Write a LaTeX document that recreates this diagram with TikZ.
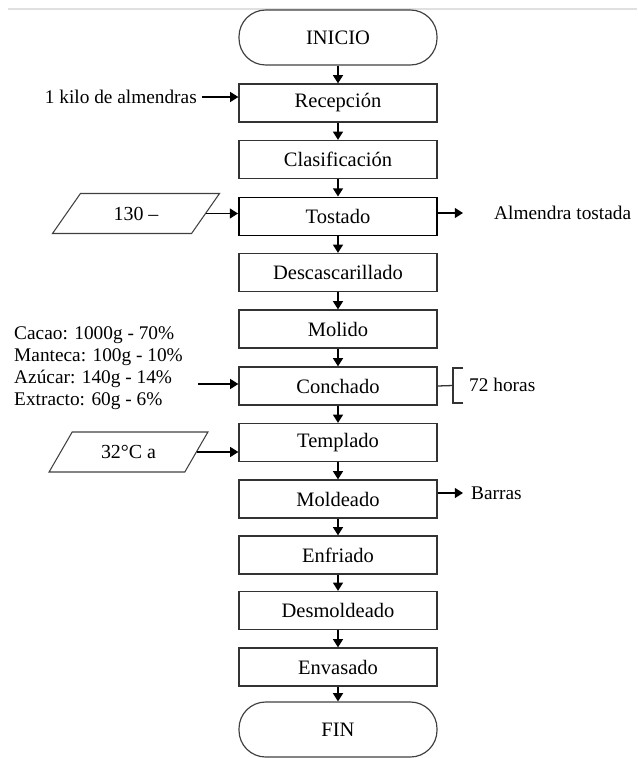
\documentclass[tikz,border=0pt]{standalone}
\usepackage{fontspec}
\setmainfont{Liberation Serif}
\usetikzlibrary{arrows.meta,shapes.geometric}

\begin{document}
\begin{tikzpicture}[x=0.03cm, y=-0.03cm,
    proceso/.style={draw=black!80, line width=1.1pt, minimum width=5.94cm, minimum height=1.14cm, inner sep=0pt, font=\fontsize{17.5}{20}\selectfont},
    terminal/.style={draw=black!75, line width=1pt, rounded corners=0.8cm, minimum width=5.94cm, minimum height=1.65cm, inner sep=0pt, font=\fontsize{17.5}{20}\selectfont},
    entrada/.style={trapezium, trapezium left angle=50, trapezium right angle=130, trapezium stretches=true, draw=black!75, line width=0.9pt, minimum height=1.2cm, inner sep=0pt, font=\fontsize{17}{20}\selectfont},
    flecha/.style={-{Triangle[length=7pt,width=8.5pt]}, line width=1.3pt},
    nota/.style={font=\fontsize{16.5}{18.8}\selectfont, inner sep=0pt}]
  \useasboundingbox (0,0) rectangle (637,758);
  \draw[black!12, line width=1pt] (8,9) -- (637,9);

  % main chain
  \node[terminal] (inicio) at (338,37.5) {INICIO};
  \node[proceso] (recep) at (338,103) {Recepción};
  \node[proceso] (clasif) at (338,159.5) {Clasificación};
  \node[proceso, line width=1.7pt, draw=black] (tostado) at (338,216.5) {Tostado};
  \node[proceso] (descas) at (338,272.5) {Descascarillado};
  \node[proceso] (molido) at (338,329) {Molido};
  \node[proceso] (conchado) at (338,386) {Conchado};
  \node[proceso] (templado) at (338,442.5) {Templado};
  \node[proceso] (moldeado) at (338,499) {Moldeado};
  \node[proceso] (enfriado) at (338,555) {Enfriado};
  \node[proceso] (desmold) at (338,610.5) {Desmoldeado};
  \node[proceso] (envasado) at (338,667) {Envasado};
  \node[terminal] (fin) at (338,729.5) {FIN};

  \draw[flecha] (inicio) -- (recep);
  \draw[flecha] (recep) -- (clasif);
  \draw[flecha] (clasif) -- (tostado);
  \draw[flecha] (tostado) -- (descas);
  \draw[flecha] (descas) -- (molido);
  \draw[flecha] (molido) -- (conchado);
  \draw[flecha] (conchado) -- (templado);
  \draw[flecha] (templado) -- (moldeado);
  \draw[flecha] (moldeado) -- (enfriado);
  \draw[flecha] (enfriado) -- (desmold);
  \draw[flecha] (desmold) -- (envasado);
  \draw[flecha] (envasado) -- (fin);

  % inputs on the left
  \node[nota, anchor=east] (kilo) at (197,97) {1 kilo de almendras};
  \draw[flecha, shorten <=0.15cm] (kilo.east) -- (kilo.east -| recep.west);

  \node[entrada, minimum width=5.04cm] (temp1) at (136,213.5) {130 –};
  \draw[flecha] (temp1.east) -- (temp1.east -| tostado.west);

  \node[nota, anchor=west, align=left] (ingred) at (14,368) {Cacao: 1000g - 70\%\\Manteca: 100g - 10\%\\Azúcar: 140g - 14\%\\Extracto: 60g - 6\%};
  \coordinate (ingred-in) at (198,384);
  \draw[flecha] (ingred-in) -- (ingred-in -| conchado.west);

  \node[entrada, minimum width=4.77cm] (temp2) at (128.5,452) {32°C a};
  \draw[flecha] (temp2.east) -- (temp2.east -| templado.west);

  % outputs on the right
  \node[nota, anchor=west] (almendra) at (494,213) {Almendra tostada};
  \draw[flecha, shorten >=0.93cm] (almendra.west -| tostado.east) -- (almendra.west);

  \node[nota, anchor=west] (barras) at (471,493) {Barras};
  \draw[flecha, shorten >=0.24cm] (barras.west -| moldeado.east) -- (barras.west);

  \coordinate (llave) at (453,385.5);
  \draw[line width=1.1pt, black!80] (conchado.east) -- (llave);
  \draw[line width=1.1pt, black!80] (llave) ++(10,-17.5) -- ++(-10,0) -- ++(0,35) -- ++(10,0);
  \node[nota, anchor=west] (horas) at (469,385) {72 horas};
\end{tikzpicture}
\end{document}
